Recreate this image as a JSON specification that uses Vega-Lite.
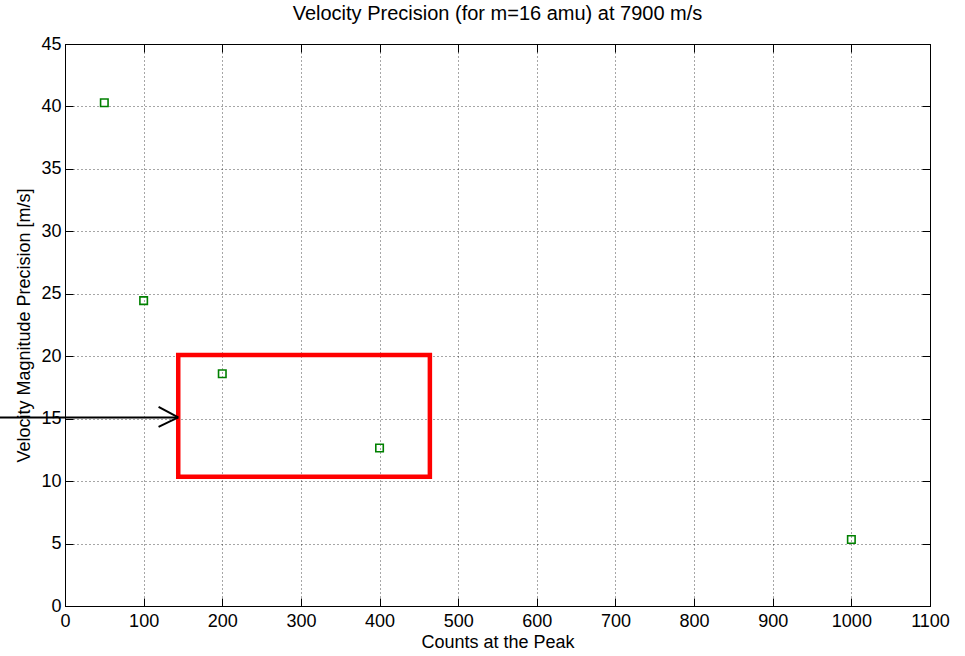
{
  "$schema": "https://vega.github.io/schema/vega-lite/v6.json",
  "width": 865,
  "height": 562,
  "autosize": {"type": "none"},
  "padding": {"left": 65, "top": 44, "right": 35, "bottom": 50},
  "background": "white",
  "title": {"text": "Velocity Precision (for m=16 amu) at 7900 m/s", "font": "Liberation Sans", "fontSize": 20, "fontWeight": "normal", "color": "black", "offset": 11},
  "config": {
    "view": {"stroke": "black", "strokeWidth": 1},
    "axis": {
      "labelFont": "Liberation Sans", "labelFontSize": 18, "labelColor": "black",
      "titleFont": "Liberation Sans", "titleFontSize": 18, "titleFontWeight": "normal", "titleColor": "black",
      "domainColor": "black", "tickColor": "black", "tickSize": -8, "tickWidth": 1,
      "gridColor": "black", "gridDash": [1, 3], "gridOpacity": 0.7, "gridWidth": 1
    }
  },
  "resolve": {"axis": {"x": "independent", "y": "independent"}},
  "layer": [
    {
      "data": {"values": [
        {"counts": 50, "precision": 40.3},
        {"counts": 100, "precision": 24.45},
        {"counts": 200, "precision": 18.6},
        {"counts": 400, "precision": 12.65},
        {"counts": 1000, "precision": 5.33}
      ]},
      "mark": {"type": "point", "shape": "square", "filled": false, "color": "#008000", "size": 56, "strokeWidth": 1.6, "opacity": 1},
      "encoding": {
        "x": {"field": "counts", "type": "quantitative", "scale": {"domain": [0, 1100], "nice": false, "zero": false},
              "axis": {"values": [0,100,200,300,400,500,600,700,800,900,1000,1100], "format": "d", "title": "Counts at the Peak", "labelPadding": 14, "titlePadding": 3, "labelFlush": false}},
        "y": {"field": "precision", "type": "quantitative", "scale": {"domain": [0, 45], "nice": false, "zero": false},
              "axis": {"values": [0,5,10,15,20,25,30,35,40,45], "format": "d", "title": "Velocity Magnitude Precision [m/s]", "labelPadding": 12, "titlePadding": 7, "labelFlush": false}}
      }
    },
    {
      "data": {"values": [{"x1": 144, "x2": 464, "y1": 10.35, "y2": 20.1}]},
      "mark": {"type": "rect", "fill": null, "filled": false, "stroke": "#ff0000", "strokeWidth": 4.5},
      "encoding": {
        "x": {"field": "x1", "type": "quantitative", "axis": {"orient": "top", "labels": false, "title": null, "grid": false, "values": [0,100,200,300,400,500,600,700,800,900,1000,1100], "domain": false}},
        "x2": {"field": "x2"},
        "y": {"field": "y1", "type": "quantitative", "axis": {"orient": "right", "labels": false, "title": null, "grid": false, "values": [0,5,10,15,20,25,30,35,40,45], "domain": false}},
        "y2": {"field": "y2"}
      }
    },
    {
      "data": {"values": [
        {"xa": -83, "ya": 15.1, "xb": 144, "yb": 15.1},
        {"xa": 119, "ya": 15.95, "xb": 144, "yb": 15.1},
        {"xa": 119, "ya": 14.35, "xb": 144, "yb": 15.1}
      ]},
      "mark": {"type": "rule", "color": "black", "strokeWidth": 2, "clip": false},
      "encoding": {
        "x": {"field": "xa", "type": "quantitative", "axis": null},
        "x2": {"field": "xb"},
        "y": {"field": "ya", "type": "quantitative", "axis": null},
        "y2": {"field": "yb"}
      }
    }
  ]
}
